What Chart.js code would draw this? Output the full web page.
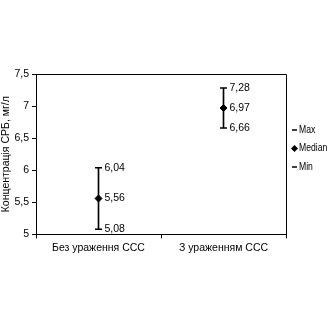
<!DOCTYPE html>
<html>
<head>
<meta charset="utf-8">
<script src="https://cdn.jsdelivr.net/npm/chart.js@4"></script>
<style>
    html, body { margin: 0; padding: 0; background: #fff; }
    #wrap { width: 330px; height: 330px; }
</style>
</head>
<body>
<div id="wrap"><canvas id="chart" width="330" height="330"></canvas></div>
<script>
// Data
const categories = ['Без ураження ССС', 'З ураженням ССС'];
const maxValues = [6.04, 7.28];
const medianValues = [5.56, 6.97];
const minValues = [5.08, 6.66];
const yTicks = [5, 5.5, 6, 6.5, 7, 7.5];

const FONT = '"Liberation Sans Narrow", "Arial Narrow", "Liberation Sans", sans-serif';
const SIZE = 10.5;
const fmt = v => v.toFixed(2).replace('.', ',');

// Box around plot, value labels and legend on the right
const boxPlugin = {
    id: 'box',
    afterDatasetsDraw(chart) {
        const { ctx, chartArea: a } = chart;
        ctx.save();
        ctx.strokeStyle = '#000';
        ctx.lineWidth = 1;
        ctx.beginPath();
        ctx.moveTo(a.left, a.top + 0.5);
        ctx.lineTo(a.right + 0.5, a.top + 0.5);
        ctx.lineTo(a.right + 0.5, a.bottom);
        ctx.stroke();

        ctx.fillStyle = '#000';
        ctx.font = SIZE + 'px ' + FONT;
        ctx.textBaseline = 'middle';
        ctx.textAlign = 'left';
        [1, 2, 3].forEach(i => {
            const meta = chart.getDatasetMeta(i);
            meta.data.forEach((pt, j) => {
                const v = chart.data.datasets[i].data[j];
                ctx.fillText(fmt(v), pt.x + 6, pt.y);
            });
        });

        // legend
        const lx = a.right + 7;
        let ly = 130;
        [1, 2, 3].forEach(i => {
            const ds = chart.data.datasets[i];
            if (ds.pointStyle === 'line') {
                ctx.lineWidth = 1.5;
                ctx.beginPath();
                ctx.moveTo(lx - 1, ly);
                ctx.lineTo(lx + 4, ly);
                ctx.stroke();
            } else {
                ctx.beginPath();
                ctx.moveTo(lx + 1.5, ly - 3.5);
                ctx.lineTo(lx + 5, ly);
                ctx.lineTo(lx + 1.5, ly + 3.5);
                ctx.lineTo(lx - 2, ly);
                ctx.closePath();
                ctx.fill();
            }
            ctx.save();
            ctx.translate(lx + 6, ly);
            ctx.scale(0.82, 1);
            ctx.fillText(ds.label, 0, 0);
            ctx.restore();
            ly += 18.5;
        });
        ctx.restore();
    }
};

new Chart(document.getElementById('chart'), {
    data: {
        labels: categories,
        datasets: [
            {
                type: 'bar',
                label: 'range',
                data: minValues.map((v, i) => [v, maxValues[i]]),
                backgroundColor: '#000',
                barThickness: 1,
                order: 4
            },
            {
                type: 'line',
                label: 'Max',
                data: maxValues,
                showLine: false,
                pointStyle: 'line',
                pointRadius: 3.5,
                borderColor: '#000',
                backgroundColor: '#000',
                pointBorderWidth: 1.5,
                order: 1
            },
            {
                type: 'line',
                label: 'Median',
                data: medianValues,
                showLine: false,
                pointStyle: 'rectRot',
                pointRadius: 3.5,
                borderColor: '#000',
                backgroundColor: '#000',
                order: 2
            },
            {
                type: 'line',
                label: 'Min',
                data: minValues,
                showLine: false,
                pointStyle: 'line',
                pointRadius: 3.5,
                borderColor: '#000',
                backgroundColor: '#000',
                pointBorderWidth: 1.5,
                order: 3
            }
        ]
    },
    options: {
        responsive: false,
        animation: false,
        layout: { padding: { top: 74, bottom: 73, left: 0, right: 44 } },
        plugins: {
            tooltip: { enabled: false },
            legend: { display: false }
        },
        scales: {
            x: {
                offset: true,
                grid: { offset: true, drawOnChartArea: false, drawTicks: true, tickLength: 4, color: '#000' },
                border: { display: true, color: '#000' },
                ticks: { color: '#000', font: { family: FONT, size: SIZE }, maxRotation: 0, padding: 3 }
            },
            y: {
                min: 5,
                max: 7.5,
                afterBuildTicks(scale) { scale.ticks = yTicks.map(v => ({ value: v })); },
                afterFit(scale) { scale.width = 36; },
                grid: { drawOnChartArea: false, drawTicks: true, tickLength: 4, color: '#000' },
                border: { display: true, color: '#000' },
                ticks: {
                    color: '#000',
                    padding: 3,
                    font: { family: FONT, size: SIZE },
                    callback: v => String(v).replace('.', ',')
                },
                title: {
                    display: true,
                    text: 'Концентрація СРБ, мг/л',
                    color: '#000',
                    font: { family: FONT, size: SIZE },
                    padding: 0
                }
            }
        }
    },
    plugins: [boxPlugin]
});
</script>
</body>
</html>
